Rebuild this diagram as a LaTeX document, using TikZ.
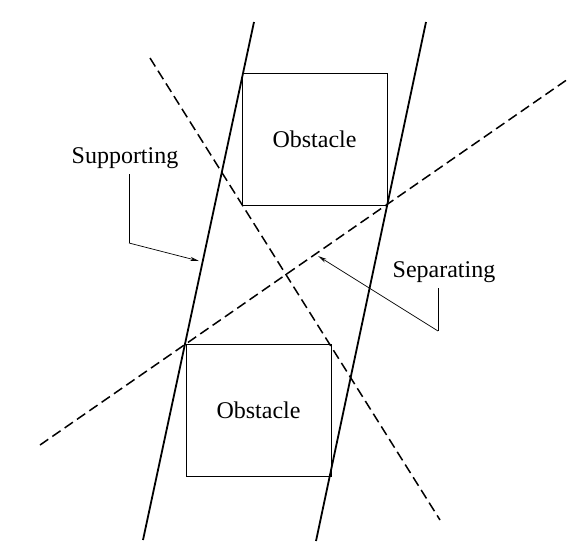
\documentclass[tikz,border=0pt]{standalone}
\usepackage{fontspec}
\setmainfont{Liberation Serif}
\usetikzlibrary{arrows.meta,calc}
\begin{document}
\begin{tikzpicture}[x=1pt,y=-1pt,
  obstacle/.style={draw, line width=0.9pt, inner sep=0pt, minimum width=145pt, minimum height=132pt, font=\fontsize{24}{28}\selectfont},
  support/.style={line width=1.8pt},
  separ/.style={line width=1.5pt, dash pattern=on 10pt off 5pt},
  lbl/.style={font=\fontsize{24}{28}\selectfont, inner sep=0pt},
  callout/.style={line width=0.7pt},
  calltip/.style={line width=0.7pt, -{Stealth[length=9pt,width=4pt,open]}}]
\useasboundingbox (0,0) rectangle (588,558);
\node[obstacle] (ob1) at (314.5,139) {Obstacle};
\node[obstacle] (ob2) at (258.5,410) {Obstacle};
% supporting lines
\coordinate (s1a) at (254,22);
\coordinate (s1b) at (143,540);
\coordinate (s2a) at (426,22);
\coordinate (s2b) at (316,541);
\draw[support] (s1a) -- (s1b);
\draw[support] (s2a) -- (s2b);
% separating lines
\coordinate (d1a) at (40,445);
\coordinate (d1b) at (568,79);
\coordinate (d2a) at (150,58);
\coordinate (d2b) at (440,520);
\draw[separ] (d1a) -- (d1b);
\draw[separ] (d2a) -- (d2b);
% labels
\node[lbl, anchor=base] (sup) at (125,163) {Supporting};
\node[lbl, anchor=base] (sep) at (444,277) {Separating};
\coordinate (c1a) at (129,174);
\coordinate (c1b) at (129,243);
\coordinate (c1t) at (199,261);
\draw[callout] (c1a) -- (c1b);
\draw[calltip] (c1b) -- (c1t);
\coordinate (c2a) at (438,288);
\coordinate (c2b) at (438,331);
\coordinate (c2t) at (318,256);
\draw[callout] (c2a) -- (c2b);
\draw[calltip] (c2b) -- (c2t);
\end{tikzpicture}
\end{document}
